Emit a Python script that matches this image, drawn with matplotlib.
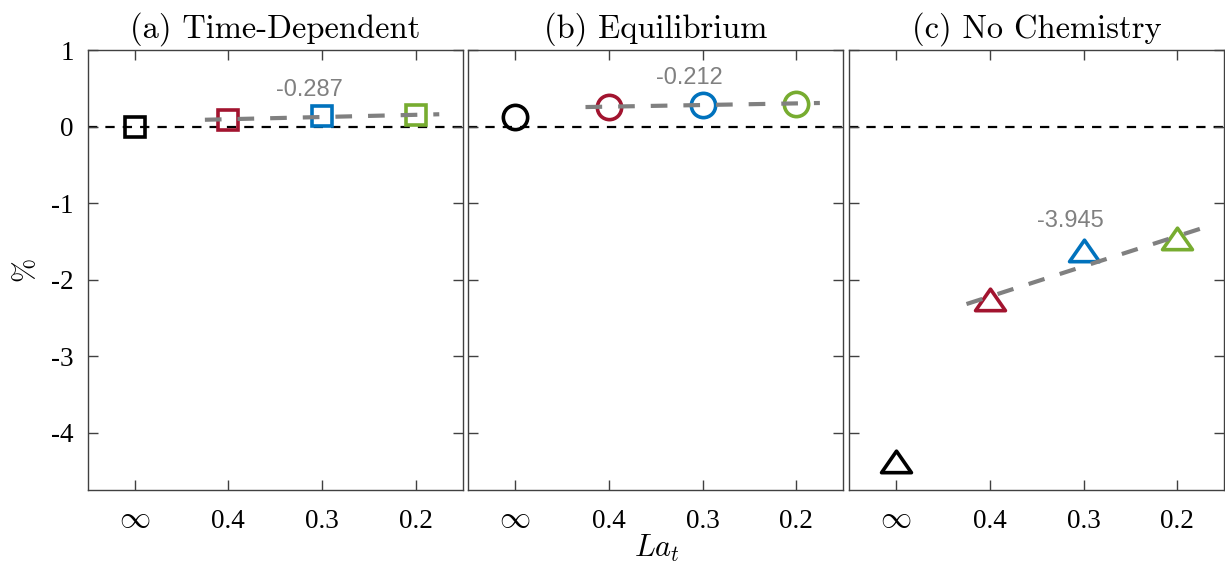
import matplotlib
matplotlib.use("Agg")
import matplotlib.pyplot as plt
import matplotlib.transforms as mtransforms
from matplotlib.path import Path
import numpy as np

plt.rcParams["mathtext.fontset"] = "cm"
plt.rcParams["lines.scale_dashes"] = False

# ---- data -------------------------------------------------------------
tick_labels = [r"$\infty$", "0.4", "0.3", "0.2"]
la_values = [0.4, 0.3, 0.2]            # finite Langmuir numbers (∞ is the first category)
titles = ["(a) Time-Dependent", "(b) Equilibrium", "(c) No Chemistry"]

time_dependent = [0.00, 0.083, 0.14, 0.15]
equilibrium = [0.126, 0.26, 0.283, 0.30]
no_chemistry = [-4.42, -2.30, -1.67, -1.51]

slopes = [-0.287, -0.212, -3.945]      # linear-fit slopes d(%)/d(La_t)

yticks = [1, 0, -1, -2, -3, -4]
ytick_labels = ["1", "0", "-1", "-2", "-3", "-4"]

# ---- styling ----------------------------------------------------------
colors = ["black", "#A2142F", "#0072BD", "#77AC30"]
tri = Path([(-1, -0.48), (1, -0.48), (0, 0.96), (-1, -0.48)],
           [Path.MOVETO, Path.LINETO, Path.LINETO, Path.CLOSEPOLY])
marker_specs = [("s", 14), ("o", 17.5), (tri, 21.5)]
slope_label_pos = [(1.86, 0.48), (1.86, 0.63), (1.86, -1.23)]
spine_col = "#404040"

series = [time_dependent, equilibrium, no_chemistry]


def la_to_pos(la):
    """Category position of a finite La_t value (0.4 -> 1, 0.3 -> 2, 0.2 -> 3)."""
    return (0.5 - np.asarray(la)) / 0.1


fig = plt.figure(figsize=(12.25, 5.66), dpi=100)
lefts = [87.7 / 1225, 468.3 / 1225, 849.3 / 1225]
width = 375 / 1225
bottom = (566 - 490) / 566
height = (490 - 50) / 566
inf_shift = mtransforms.ScaledTranslation(0, 4 / 100, fig.dpi_scale_trans)

for k, (vals, slope) in enumerate(zip(series, slopes)):
    ax = fig.add_axes([lefts[k], bottom, width, height])
    x = np.arange(len(vals))

    ax.axhline(0, color="k", lw=1.6, dashes=(6.7, 5.8), zorder=1)

    mk, ms = marker_specs[k]
    for i, v in enumerate(vals):
        ax.plot(x[i], v, ls="none", marker=mk, ms=ms, mfc="none",
                mec=colors[i], mew=2.6, zorder=2)

    # least-squares line through the finite-La points with the stated slope
    la = np.array(la_values)
    ybar = np.mean(vals[1:])
    la_line = np.array([0.425, 0.175])
    y_line = ybar + slope * (la_line - la.mean())
    ax.plot(la_to_pos(la_line), y_line, color="#808080", lw=3.0,
            dashes=(12, 11.5), zorder=3)

    tx, ty = slope_label_pos[k]
    ax.text(tx, ty, f"{slope:.3f}", color="#808080", fontsize=17,
            family="Liberation Sans", ha="center", va="center")

    ax.set_xlim(-0.5, 3.5)
    ax.set_ylim(-4.75, 1)
    ax.set_xticks(x)
    ax.set_xticklabels(tick_labels)
    ax.set_yticks(yticks)
    ax.set_yticklabels(ytick_labels)
    ax.tick_params(direction="in", length=7, width=1, top=True, right=True,
                   color=spine_col, labelcolor="k", labelsize=19.5)
    ax.tick_params(axis="x", pad=14)
    ax.tick_params(axis="y", pad=10)
    for lab in ax.get_xticklabels() + ax.get_yticklabels():
        lab.set_fontfamily("Liberation Serif")
    inf_lab = ax.get_xticklabels()[0]
    inf_lab.set_fontsize(22.5)
    inf_lab.set_transform(inf_lab.get_transform() + inf_shift)
    if k > 0:
        ax.tick_params(labelleft=False)
    for sp in ax.spines.values():
        sp.set_color(spine_col)
        sp.set_linewidth(1.0)

    ax.set_title(titles[k], family="cmr10", fontsize=23.4, pad=9.0)

fig.text(25 / 1225, 1 - 269 / 566, "%", rotation=90, family="cmr10",
         fontsize=21, ha="center", va="center")
fig.text(657 / 1225, 1 - 548 / 566, r"$La_t$", fontsize=22,
         ha="center", va="center")

fig.savefig("out.png", dpi=100)
